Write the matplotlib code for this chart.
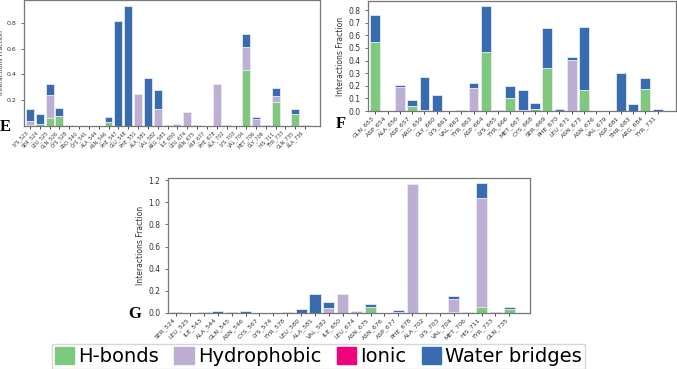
import numpy as np
import matplotlib
matplotlib.use("Agg")
import matplotlib.pyplot as plt
from matplotlib.patches import Patch

# colours (Accent palette)
c_hb = "#7fc97f"
c_hp = "#beaed4"
c_ion = "#f0027f"
c_wb = "#386cb0"

# panel E
res_e = ["LYS_523", "SER_524", "LEU_525", "GLN_526", "CYS_528", "PRO_540", "CYS_541",
         "ALA_544", "ASN_546", "PHE_547", "GLU_548", "PHE_551", "ALA_581", "VAL_582",
         "ARG_583", "ILE_650", "LEU_674", "ASN_675", "ASP_677", "PHE_678", "ALA_702",
         "LYS_703", "VAL_704", "MET_706", "GLY_709", "HIS_711", "TYR_733", "GLN_735", "ALA_736"]
hb_e = [0.010, 0.018, 0.060, 0.078, 0.005, 0, 0, 0, 0.030, 0, 0, 0, 0, 0,
        0, 0, 0, 0, 0, 0, 0, 0, 0.435, 0.002, 0, 0.185, 0, 0.091, 0]
hp_e = [0.026, 0, 0.177, 0, 0, 0, 0, 0, 0, 0, 0, 0.245, 0, 0.133,
        0, 0.018, 0.107, 0, 0, 0.325, 0, 0, 0.175, 0.050, 0, 0.050, 0, 0, 0]
wb_e = [0.094, 0.076, 0.086, 0.062, 0, 0, 0, 0, 0.040, 0.818, 0.930, 0, 0.370, 0.146,
        0.005, 0, 0, 0.010, 0, 0, 0.010, 0, 0.100, 0.018, 0.010, 0.060, 0, 0.042, 0.008]

# panel F
res_f = ["GLN_653", "ASP_654", "ALA_656", "ASP_657", "ARG_659", "GLY_660", "LYS_661",
         "VAL_662", "TYR_663", "ASP_664", "LYS_665", "TYR_666", "MET_667", "CYS_668",
         "SER_669", "PHE_670", "LEU_671", "ASN_673", "ASN_676", "VAL_679", "ASP_681",
         "THR_683", "ARG_684", "TYR_731"]
hb_f = [0.547, 0, 0, 0.040, 0.010, 0, 0, 0, 0, 0.465, 0, 0.100, 0, 0.015,
        0.340, 0, 0, 0.170, 0, 0, 0, 0, 0.175, 0]
hp_f = [0, 0, 0.190, 0, 0, 0, 0, 0, 0.180, 0, 0, 0, 0.010, 0,
        0, 0, 0.405, 0, 0, 0, 0, 0, 0, 0]
wb_f = [0.211, 0, 0.015, 0.050, 0.262, 0.125, 0.002, 0.010, 0.040, 0.367, 0.012, 0.100,
        0.160, 0.050, 0.315, 0.015, 0.025, 0.495, 0.002, 0.003, 0.305, 0.055, 0.090, 0.018]

# panel G
res_g = ["SER_524", "LEU_525", "ILE_543", "ALA_544", "GLN_545", "ASN_546", "CYS_567",
         "LYS_574", "TYR_578", "LEU_580", "ALA_581", "VAL_582", "ILE_650", "LEU_674",
         "ASN_675", "ASN_676", "ASP_677", "PHE_678", "ALA_702", "LYS_703", "VAL_704",
         "MET_706", "HIS_711", "TYR_733", "GLN_735"]
hb_g = [0, 0, 0, 0, 0, 0.003, 0, 0, 0, 0, 0, 0, 0, 0,
        0.055, 0, 0, 0, 0, 0, 0.005, 0.010, 0.050, 0, 0.035]
hp_g = [0, 0, 0, 0, 0, 0, 0, 0, 0, 0, 0, 0.045, 0.175, 0.020,
        0, 0, 0.008, 1.165, 0, 0, 0.120, 0, 0.985, 0, 0]
wb_g = [0.005, 0.003, 0.005, 0.020, 0.005, 0.015, 0, 0, 0.007, 0.040, 0.170, 0.055, 0, 0,
        0.025, 0.003, 0.017, 0, 0.002, 0, 0.025, 0, 0.135, 0.008, 0.020]


def stacked(ax, res, hb, hp, wb, fs, yticks):
    x = np.arange(len(res))
    hb = np.array(hb)
    hp = np.array(hp)
    wb = np.array(wb)
    kw = dict(width=0.8, edgecolor="#e8e8f4", linewidth=0.6)
    ax.bar(x, hb, color=c_hb, **kw)
    ax.bar(x, hp, bottom=hb, color=c_hp, **kw)
    ax.bar(x, wb, bottom=hb + hp, color=c_wb, **kw)
    ax.set_xlim(-0.6, len(res) + 0.5)
    ax.set_xticks(x)
    ax.set_xticklabels(res, rotation=45, ha="right", fontsize=fs, color="#333333")
    ax.set_yticks(yticks)
    ax.tick_params(axis="y", labelsize=fs + 1, colors="#333333", length=2, width=0.5)
    ax.tick_params(axis="x", length=2, width=0.5, pad=1)
    ax.set_ylabel("Interactions Fraction", fontsize=fs + 1, color="#333333", labelpad=2)
    for s in ax.spines.values():
        s.set_color("#777777")
        s.set_linewidth(0.9)


fig = plt.figure(figsize=(6.77, 3.69), dpi=100)

ax_e = fig.add_axes([0.0355, 0.6585, 0.437, 0.3415])
stacked(ax_e, res_e, hb_e, hp_e, wb_e, 3.5, [0.2, 0.4, 0.6, 0.8])
ax_e.set_ylim(0, 0.977)

ax_f = fig.add_axes([0.5436, 0.699, 0.455, 0.298])
stacked(ax_f, res_f, hb_f, hp_f, wb_f, 4.5, np.arange(0, 0.81, 0.1))
ax_f.set_ylim(0, 0.871)

ax_g = fig.add_axes([0.248, 0.1518, 0.535, 0.366])
stacked(ax_g, res_g, hb_g, hp_g, wb_g, 4.5, np.arange(0, 1.21, 0.2))
ax_g.set_ylim(0, 1.22)

# panel letters
for txt, x, y in [("E", 0.0, 0.655), ("F", 0.496, 0.665), ("G", 0.19, 0.15)]:
    fig.text(x, y, txt, fontsize=12, fontweight="bold", family="Liberation Serif", va="center")

# legend
handles = [Patch(color=c_hb, label="H-bonds"),
           Patch(color=c_hp, label="Hydrophobic"),
           Patch(color=c_ion, label="Ionic"),
           Patch(color=c_wb, label="Water bridges")]
fig.legend(handles=handles, loc="lower center", bbox_to_anchor=(0.47, 0.0),
           ncol=4, fontsize=14, frameon=True, edgecolor="#cccccc", fancybox=False,
           handlelength=1.0, handleheight=1.0, handletextpad=0.2, columnspacing=0.8,
           borderaxespad=0, borderpad=0.15)

fig.savefig("out.png", dpi=100)
